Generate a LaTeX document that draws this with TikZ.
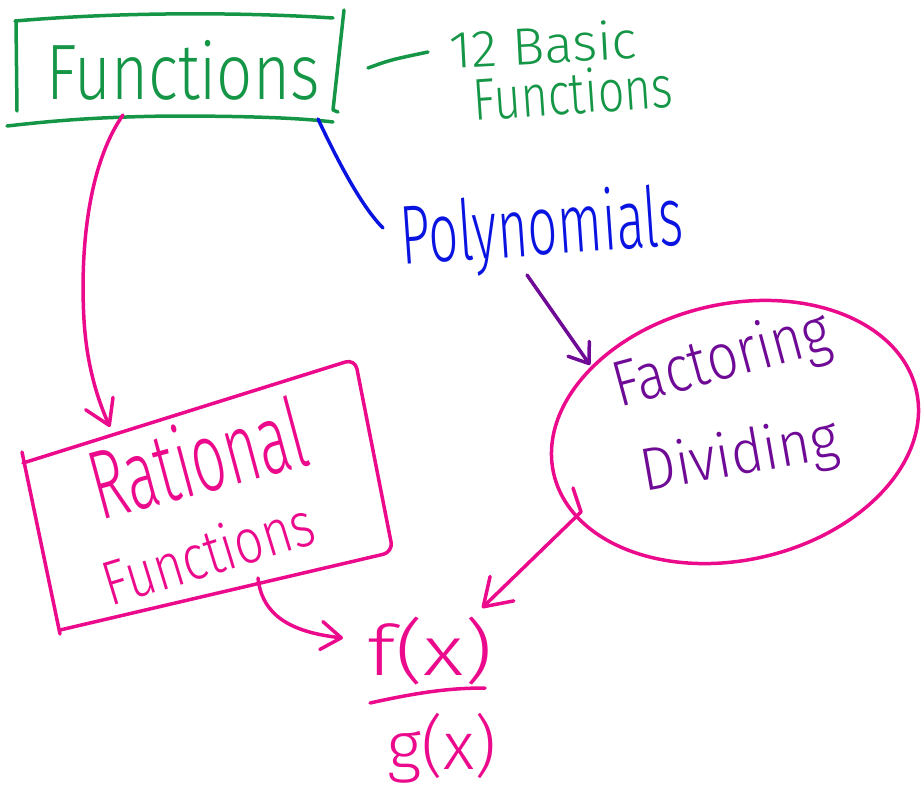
\documentclass[tikz,border=0pt]{standalone}
\usepackage{fontspec}
\setmainfont{Fira Sans}
\newfontfamily\hand{Fira Sans Light}
\usetikzlibrary{arrows.meta}

\definecolor{mkgreen}{RGB}{20,150,70}
\definecolor{mkpink}{RGB}{236,10,140}
\definecolor{mkblue}{RGB}{10,20,225}
\definecolor{mkpurple}{RGB}{110,10,150}

% word scaled to a given width and total height
\newcommand\hw[3]{\resizebox*{#1}{#2}{\hand #3}}

\begin{document}
\begin{tikzpicture}[x=1pt,y=-1pt,
  pen/.style={line width=3.5pt, line cap=round, line join=round},
  word/.style={inner sep=0pt, outer sep=0pt},
  barb/.style 2 args={-{Straight Barb[round,length=#1,width=#2]}}]
\useasboundingbox (0,0) rectangle (921,787);

% ---- words ----
\node[word, text=mkgreen] (fun) at (183,70) {\hw{273pt}{60pt}{Functions}};
\node[word, text=mkgreen, rotate=3] (basic) at (543,44) {\hw{187pt}{40pt}{12 Basic}};
\node[word, text=mkgreen, rotate=4] (basicf) at (573,92) {\hw{200pt}{45pt}{Functions}};
\node[word, text=mkblue, rotate=4] (poly) at (542,232) {\hw{283pt}{80pt}{Polynomials}};
\node[word, text=mkpink, rotate=15] (rat) at (197,457) {\hw{219pt}{75pt}{Rational}};
\node[word, text=mkpink, rotate=17] (ratf) at (208,552) {\hw{218pt}{48pt}{Functions}};
\node[word, text=mkpurple, rotate=15] (fac) at (722,362) {\hw{222pt}{62pt}{Factoring}};
\node[word, text=mkpurple, rotate=10] (div) at (740,458) {\hw{200pt}{58pt}{Dividing}};
\node[word, text=mkpink] (num) at (430,651) {\hw{125pt}{68pt}{f(x)}};
\node[word, text=mkpink] (den) at (442,748) {\hw{109pt}{70pt}{g(x)}};

% ---- green frame around "Functions" ----
\draw[pen, mkgreen] (15,21) .. controls (120,12) and (240,12) .. (333,18);
\draw[pen, mkgreen] (16,21) -- (17,111);
\draw[pen, mkgreen] (344,10) -- (333,110) -- (338,112);
\draw[pen, mkgreen] (7,126) .. controls (60,120) and (100,117) .. (170,116)
  .. controls (250,116) and (300,118) .. (333,122);
\draw[pen, mkgreen] (368,68) .. controls (390,60) .. (428,52);

% ---- pink frame around "Rational Functions" ----
\draw[pen, mkpink] (22,452) -- (60,634);
\draw[pen, mkpink, rounded corners=10pt] (60,630) -- (393,552) -- (355,359) -- (23,463);

% ---- pink oval around "Factoring Dividing" ----
\draw[pen, mkpink, rotate around={13:(735,432)}] (735,432) ellipse [x radius=186pt, y radius=128pt];

% ---- fraction bar ----
\draw[pen, mkpink] (370,703) .. controls (420,692) and (450,688) .. (485,688);

% ---- connector ends ----
\coordinate (funA) at (123,115);
\coordinate (ratA) at (110,427);
\coordinate (funB) at (318,119);
\coordinate (polyA) at (383,228);
\coordinate (polyB) at (527,275);
\coordinate (facA) at (590,365);
\coordinate (ovA) at (573,488);
\coordinate (ovB) at (581,512);
\coordinate (numA) at (482,608);
\coordinate (ratB) at (258,578);
\coordinate (numB) at (343,638);

% ---- connectors ----
\draw[pen, mkpink, barb={24pt}{30pt}] (funA) .. controls (88,165) and (80,250) .. (84,320)
  .. controls (87,370) and (100,405) .. (ratA);
\draw[pen, mkblue] (funB) .. controls (335,155) and (360,205) .. (polyA);
\draw[pen, mkpurple, barb={18pt}{26pt}] (polyB) -- (facA);
\draw[pen, mkpink, barb={26pt}{34pt}] (ovA) -- (ovB) -- (numA);
\draw[pen, mkpink, barb={20pt}{28pt}] (ratB) .. controls (262,615) and (290,632) .. (numB);
\end{tikzpicture}
\end{document}
